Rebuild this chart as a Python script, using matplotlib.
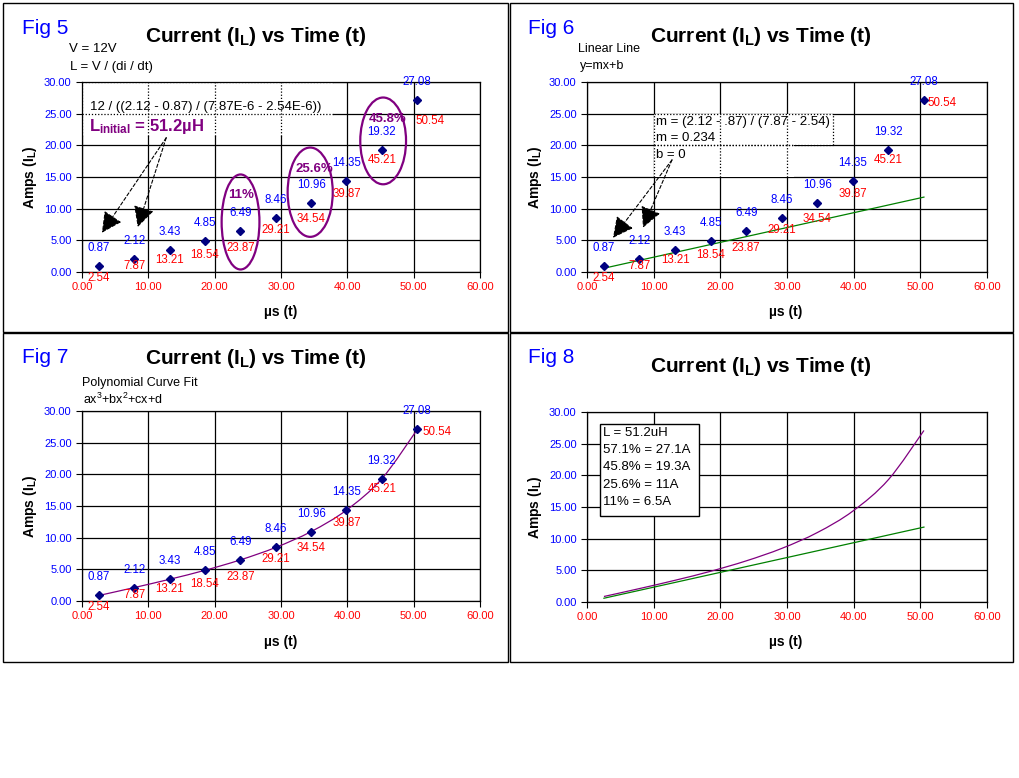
import matplotlib
matplotlib.use("Agg")
import matplotlib.pyplot as plt
from matplotlib.patches import Rectangle, Ellipse, PathPatch
from matplotlib.path import Path

plt.rcParams['font.family'] = ['Liberation Sans', 'DejaVu Sans']
plt.rcParams['mathtext.fontset'] = 'custom'
plt.rcParams['mathtext.rm'] = 'Liberation Sans'
plt.rcParams['mathtext.it'] = 'Liberation Sans:italic'
plt.rcParams['mathtext.bf'] = 'Liberation Sans:bold'

# data
x_us = [2.54, 7.87, 13.21, 18.54, 23.87, 29.21, 34.54, 39.87, 45.21, 50.54]
amps = [0.87, 2.12, 3.43, 4.85, 6.49, 8.46, 10.96, 14.35, 19.32, 27.08]
x_ticks = [0, 10, 20, 30, 40, 50, 60]
y_ticks = [0, 5, 10, 15, 20, 25, 30]
slope_m = 0.234
fig8_notes = ["L = 51.2uH", "57.1% = 27.1A", "45.8% = 19.3A", "25.6% = 11A", "11% = 6.5A"]
pct_labels = ["11%", "25.6%", "45.8%"]

W, H = 1020, 778
BLUE = '#0000FF'
RED = '#FF0000'
PURPLE = '#800080'
GREEN = '#008000'
NAVY = '#000080'

fig = plt.figure(figsize=(W / 100, H / 100), dpi=100)


def px_axes(x0, y0, x1, y1):
    return fig.add_axes([x0 / W, 1 - y1 / H, (x1 - x0) / W, (y1 - y0) / H])


def ftext(x, y, s, **kw):
    kw.setdefault('va', 'center')
    kw.setdefault('ha', 'left')
    fig.text(x / W, 1 - y / H, s, **kw)


def panel(x0, y0, x1, y1):
    fig.patches.append(Rectangle((x0 / W, 1 - y1 / H), (x1 - x0) / W, (y1 - y0) / H,
                                 transform=fig.transFigure, fill=False,
                                 edgecolor='black', lw=1.0))


def setup(ax, cx, ylab_x, ylab_y, xlab_y, title_y):
    ax.set_xlim(0, 60)
    ax.set_ylim(0, 30)
    ax.set_xticks(x_ticks)
    ax.set_yticks(y_ticks)
    ax.set_xticklabels([f'{v:.2f}' for v in x_ticks])
    ax.set_yticklabels([f'{v:.2f}' for v in y_ticks])
    ax.grid(True, color='black', lw=0.9)
    ax.set_axisbelow(True)
    for s in ax.spines.values():
        s.set_color('black')
        s.set_linewidth(0.9)
    ax.tick_params(direction='out', length=4, width=0.8, labelsize=8, pad=3.5)
    ax.tick_params(axis='x', labelcolor=RED)
    ax.tick_params(axis='y', labelcolor=BLUE)
    ftext(ylab_x, ylab_y, r'Amps ($\mathbf{I_L}$)', rotation=90, ha='center',
          fontsize=10, weight='bold')
    ftext(cx, xlab_y, 'µs (t)', ha='center', fontsize=10, weight='bold')
    ftext(cx - 25, title_y, r'Current ($\mathbf{I_L}$) vs Time (t)', ha='center',
          fontsize=15, weight='bold')


# red label offsets (pixels below marker) for the first nine points
red_dy = [12, 7.5, 9.5, 14, 17.4, 11.6, 16.7, 13, 10.5]


def label_points(ax, last_off, last_ha):
    ax.plot(x_us, amps, 'D', color=NAVY, ms=4.5, zorder=4, clip_on=False)
    n = len(x_us)
    for i in range(n):
        ax.annotate(f'{amps[i]:.2f}', (x_us[i], amps[i]), xytext=(0, 18),
                    textcoords='offset pixels', ha='center', va='center',
                    color=BLUE, fontsize=8.3, zorder=5)
        if i < n - 1:
            off, ha = (0, -red_dy[i]), 'center'
        else:
            off, ha = last_off, last_ha
        ax.annotate(f'{x_us[i]:.2f}', (x_us[i], amps[i]), xytext=off,
                    textcoords='offset pixels', ha=ha, va='center',
                    color=RED, fontsize=8.3, zorder=5)


def smooth_line(ax, xs, ys, color):
    # Excel style smoothed line: Bezier segments through the data points
    pts = list(zip(xs, ys))
    ext = [pts[0]] + pts + [pts[-1]]
    verts = [pts[0]]
    codes = [Path.MOVETO]
    for i in range(1, len(ext) - 2):
        p0, p1, p2, p3 = ext[i - 1], ext[i], ext[i + 1], ext[i + 2]
        c1 = (p1[0] + (p2[0] - p0[0]) / 6, p1[1] + (p2[1] - p0[1]) / 6)
        c2 = (p2[0] - (p3[0] - p1[0]) / 6, p2[1] - (p3[1] - p1[1]) / 6)
        verts += [c1, c2, p2]
        codes += [Path.CURVE4] * 3
    ax.add_patch(PathPatch(Path(verts, codes), fill=False, edgecolor=color,
                           lw=0.9, zorder=3))


def dotted_region(ax, x0, x1, y0, y1, edges=()):
    ax.add_patch(Rectangle((x0, y0), x1 - x0, y1 - y0, facecolor='white',
                           edgecolor='none', zorder=1.5))
    for gx in x_ticks:
        if x0 <= gx <= x1:
            ax.plot([gx, gx], [y0, y1], color='black', lw=0.9, ls=(0, (1, 1.5)), zorder=1.6)
    for gy in y_ticks:
        if y0 <= gy <= y1:
            ax.plot([x0, x1], [gy, gy], color='black', lw=0.9, ls=(0, (1, 1.5)), zorder=1.6)
    if 'right' in edges:
        ax.plot([x1, x1], [y0, y1], color='black', lw=0.9, ls=(0, (1, 1.5)), zorder=1.6)


def dashed_arrow(ax, start, end):
    ax.annotate('', xy=end, xytext=start,
                arrowprops=dict(arrowstyle='-|>,head_length=0.75,head_width=0.38',
                                linestyle=(0, (3, 2)), color='black', lw=0.8,
                                mutation_scale=17, shrinkA=0, shrinkB=0), zorder=3)


# panel frames
panel(3, 3, 508, 332)
panel(510, 3, 1013, 332)
panel(3, 333, 508, 662)
panel(510, 333, 1013, 662)

# ---- Fig 5
ax5 = px_axes(82, 82, 480, 272)
setup(ax5, 281, 30, 177, 312, 36)
ftext(22, 28, 'Fig 5', color=BLUE, fontsize=15)
ftext(69, 49, 'V = 12V', fontsize=9.5)
ftext(70, 67, 'L = V / (di / dt)', fontsize=9.5)
dotted_region(ax5, 0, 37.8, 21.5, 30)
ax5.text(1.2, 26.1, '12 / ((2.12 - 0.87) / (7.87E-6 - 2.54E-6))', fontsize=9.5,
         va='center', zorder=3)
ax5.text(1.0, 22.9, r'$\mathbf{L_{initial}}$ = 51.2µH', fontsize=12, weight='bold',
         color=PURPLE, va='center', zorder=3)
dashed_arrow(ax5, (12.7, 21.2), (3.0, 6.2))
dashed_arrow(ax5, (12.7, 21.2), (8.4, 7.1))
for (cx, cy, w, h), lab, (tx, ty) in zip(
        [(23.9, 7.9, 5.7, 15.0), (34.4, 12.6, 6.8, 14.1), (45.4, 20.7, 6.9, 13.7)],
        pct_labels, [(24.0, 12.2), (35.0, 16.3), (46.1, 24.2)]):
    ax5.add_patch(Ellipse((cx, cy), w, h, fill=False, edgecolor=PURPLE, lw=1.6, zorder=3))
    ax5.text(tx, ty, lab, fontsize=9.5, weight='bold', color=PURPLE, ha='center',
             va='center', zorder=5)
label_points(ax5, (-2, -20.5), 'left')

# ---- Fig 6
ax6 = px_axes(587, 82, 987, 272)
setup(ax6, 786, 535, 177, 312, 36)
ftext(528, 28, 'Fig 6', color=BLUE, fontsize=15)
ftext(578, 49, 'Linear Line', fontsize=9)
ftext(580, 66, 'y=mx+b', fontsize=9)
dotted_region(ax6, 10, 36.9, 20, 25, edges=('right',))
dotted_region(ax6, 10, 31, 15.05, 20)
ax6.text(10.4, 23.7, 'm = (2.12 - .87) / (7.87 - 2.54)', fontsize=9.5, va='center', zorder=3)
ax6.text(10.4, 21.2, 'm = 0.234', fontsize=9.5, va='center', zorder=3)
ax6.text(10.4, 18.5, 'b = 0', fontsize=9.5, va='center', zorder=3)
dashed_arrow(ax6, (12.75, 17.7), (3.9, 5.4))
dashed_arrow(ax6, (12.75, 17.7), (8.4, 7.0))
ax6.plot([x_us[0], x_us[-1]], [slope_m * x_us[0], slope_m * x_us[-1]], color=GREEN,
         lw=0.9, zorder=3)
label_points(ax6, (4, -3), 'left')

# ---- Fig 7
ax7 = px_axes(82, 411, 480, 601)
setup(ax7, 281, 30, 506, 642, 359)
ftext(22, 357, 'Fig 7', color=BLUE, fontsize=15)
ftext(82, 383, 'Polynomial Curve Fit', fontsize=9)
ftext(83, 399, r'ax$^3$+bx$^2$+cx+d', fontsize=9)
smooth_line(ax7, x_us, amps, PURPLE)
label_points(ax7, (5, -3), 'left')

# ---- Fig 8
ax8 = px_axes(587, 412, 987, 602)
setup(ax8, 786, 535, 507, 642, 366)
ftext(528, 357, 'Fig 8', color=BLUE, fontsize=15)
smooth_line(ax8, x_us, amps, PURPLE)
ax8.plot([x_us[0], x_us[-1]], [slope_m * x_us[0], slope_m * x_us[-1]], color=GREEN,
         lw=0.9, zorder=3)
fig.patches.append(Rectangle((600 / W, 1 - 516 / H), 99 / W, 92 / H,
                             transform=fig.transFigure, facecolor='white',
                             edgecolor='black', lw=1.0, zorder=5))
for k, line in enumerate(fig8_notes):
    ftext(603, 433 + k * 17.2, line, fontsize=9.5, zorder=6)

fig.savefig('out.png', dpi=100)
